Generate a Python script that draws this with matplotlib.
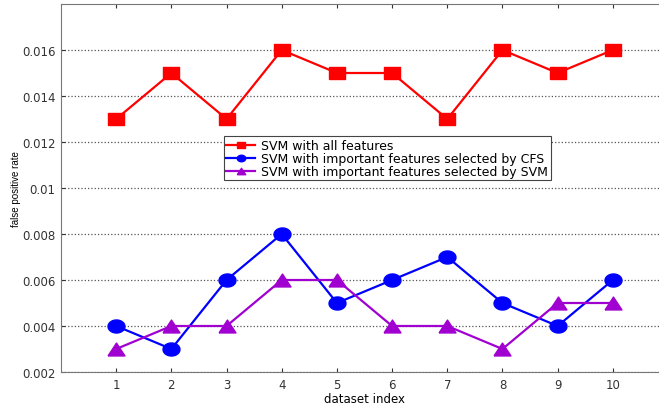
import matplotlib
matplotlib.use("Agg")
import matplotlib.pyplot as plt
import numpy as np

plt.rcParams['font.family'] = ['DejaVu Sans']

dataset_index = [1, 2, 3, 4, 5, 6, 7, 8, 9, 10]
fpr_all = [0.013, 0.015, 0.013, 0.016, 0.015, 0.015, 0.013, 0.016, 0.015, 0.016]
fpr_cfs = [0.004, 0.003, 0.006, 0.008, 0.005, 0.006, 0.007, 0.005, 0.004, 0.006]
fpr_svm = [0.003, 0.004, 0.004, 0.006, 0.006, 0.004, 0.004, 0.003, 0.005, 0.005]
yticks = [0.002, 0.004, 0.006, 0.008, 0.01, 0.012, 0.014, 0.016]
ytick_labels = ["0.002", "0.004", "0.006", "0.008", "0.01", "0.012", "0.014", "0.016"]

# the original picture is stretched sideways, so the markers are wider than tall
sq = [(-1, -0.69), (1, -0.69), (1, 0.69), (-1, 0.69), (-1, -0.69)]
t = np.linspace(0, 2 * np.pi, 40)
ell = list(zip(np.cos(t), 0.77 * np.sin(t)))
tri = [(-1, -0.76), (1, -0.76), (0, 0.76), (-1, -0.76)]

fig = plt.figure(figsize=(6.59, 4.06), dpi=100)
ax = fig.add_axes([61 / 659, 33 / 406, 607 / 659, 368 / 406])

ax.plot(dataset_index, fpr_all, "-", marker=sq, color="#ff0000", lw=1.6, ms=11.5,
        label="SVM with all features")
ax.plot(dataset_index, fpr_cfs, "-", marker=ell, color="#0000ff", lw=1.6, ms=12.2,
        label="SVM with important features selected by CFS")
ax.plot(dataset_index, fpr_svm, "-", marker=tri, color="#a000d0", lw=1.6, ms=12.2,
        label="SVM with important features selected by SVM")

ax.set_xlim(0, 11)
ax.set_ylim(0.002, 0.018)
ax.set_xticks(dataset_index)
ax.set_yticks(yticks)
ax.set_yticklabels(ytick_labels)
ax.tick_params(direction="in", top=True, labelsize=8.5, colors="#333333", length=3, pad=4)
ax.yaxis.grid(True, linestyle=":", color="#555555", lw=0.9)
for s in ax.spines.values():
    s.set_color("#777777")

ax.set_xlabel("dataset index", fontsize=8.5, labelpad=1)
ax.set_ylabel("false positive rate", fontsize=7, labelpad=1,
              family=["Liberation Sans", "DejaVu Sans"])

leg = ax.legend(loc="upper left", bbox_to_anchor=(0.268, 0.64), fontsize=9,
                fancybox=False, framealpha=1, edgecolor="#444444",
                borderpad=0.2, labelspacing=0.0, handlelength=2.3,
                handletextpad=0.5, markerscale=0.5, borderaxespad=0)
leg.get_frame().set_linewidth(0.8)

fig.savefig("out.png", dpi=100)
